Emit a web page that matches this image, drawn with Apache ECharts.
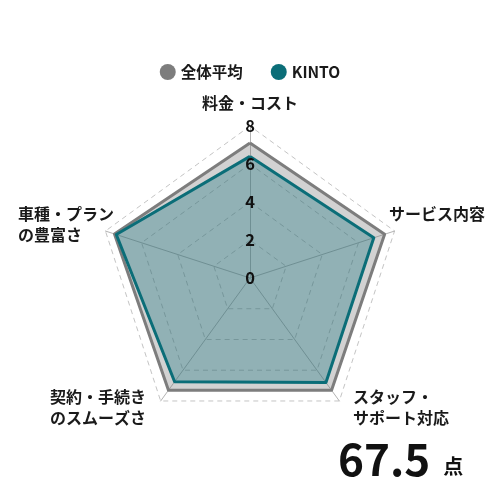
<!DOCTYPE html>
<html>
<head>
<meta charset="utf-8">
<script src="https://cdn.jsdelivr.net/npm/echarts@6/dist/echarts.min.js"></script>
<style>
html,body{margin:0;padding:0;background:#fff;}
#chart{width:500px;height:500px;}
</style>
</head>
<body>
<div id="chart"></div>
<script>
// Data
const categories = ['料金・コスト', '車種・プラン\nの豊富さ', '契約・手続き\nのスムーズさ', 'スタッフ・\nサポート対応', 'サービス内容'];
const seriesNames = ['全体平均', 'KINTO'];
const averageValues = [7.1, 7.5, 7.3, 7.3, 7.45];
const kintoValues = [6.4, 7.4, 6.75, 6.8, 6.85];
const tickLabels = ['0', '2', '4', '6', '8'];
const axisMax = 8;
const scoreText = '67.5';
const scoreUnit = '点';

const FONT = '"Noto Sans CJK JP", "Noto Sans", sans-serif';
const GRAY = '#7d7d7d';
const TEAL = '#0b6e78';

const chart = echarts.init(document.getElementById('chart'), null, {renderer: 'canvas'});

const baseIndicator = categories.map((c) => ({name: c, min: 0, max: axisMax}));
const labelIndicator = categories.map((c, i) => {
  const o = {name: c, min: 0, max: axisMax};
  if (i === 0) o.axisLabel = {show: true};
  return o;
});

// label placements for indicator names
const namePlacement = [
  {x: 250, y: 103, align: 'center'},
  {x: 18, y: 224, align: 'left'},
  {x: 50, y: 407, align: 'left'},
  {x: 353, y: 407, align: 'left'},
  {x: 389, y: 214, align: 'left'}
];

const graphics = categories.map((c, i) => ({
  type: 'text',
  x: namePlacement[i].x,
  y: namePlacement[i].y,
  style: {
    text: c,
    font: 'bold 16px ' + FONT,
    fill: '#1a1a1a',
    align: namePlacement[i].align,
    verticalAlign: 'middle',
    lineHeight: 21
  }
}));

graphics.push({
  type: 'text',
  x: 338,
  y: 481,
  style: {
    text: '{n|' + scoreText + '}{u|' + scoreUnit + '}',
    verticalAlign: 'bottom',
    rich: {
      n: {font: 'bold 44px ' + FONT, fill: '#111', verticalAlign: 'bottom'},
      u: {font: 'bold 20px ' + FONT, fill: '#111', verticalAlign: 'bottom', padding: [0, 0, 5, 13]}
    }
  }
});

const common = {
  center: [250, 278],
  radius: 152,
  startAngle: 90,
  splitNumber: 4,
  shape: 'polygon',
  axisName: {show: false},
  axisTick: {show: false},
  splitArea: {show: false}
};

const option = {
  backgroundColor: '#fff',
  animation: false,
  legend: {
    top: 59,
    left: 'center',
    itemWidth: 16,
    itemHeight: 16,
    itemGap: 28,
    icon: 'circle',
    data: seriesNames,
    textStyle: {fontFamily: FONT, fontWeight: 'bold', fontSize: 15.5, color: '#1a1a1a'}
  },
  radar: [
    Object.assign({}, common, {
      indicator: baseIndicator,
      axisLine: {lineStyle: {color: '#b3b3b3', width: 1}},
      splitLine: {lineStyle: {color: '#c4c4c4', type: [5, 4], width: 1}},
      axisLabel: {show: false}
    }),
    Object.assign({}, common, {
      z: 10,
      indicator: labelIndicator,
      axisLine: {show: false},
      splitLine: {show: false},
      axisLabel: {
        show: false,
        margin: 0,
        align: 'center',
        verticalAlign: 'middle',
        fontFamily: FONT,
        fontWeight: 'bold',
        fontSize: 16.5,
        color: '#111',
        formatter: (v) => tickLabels[Math.round(v / 2)] ?? String(v)
      }
    })
  ],
  series: [{
    type: 'radar',
    radarIndex: 0,
    symbol: 'none',
    data: [
      {
        name: seriesNames[0],
        value: averageValues,
        itemStyle: {color: GRAY},
        lineStyle: {color: GRAY, width: 3},
        areaStyle: {color: GRAY, opacity: 0.35}
      },
      {
        name: seriesNames[1],
        value: kintoValues,
        itemStyle: {color: TEAL},
        lineStyle: {color: TEAL, width: 3},
        areaStyle: {color: TEAL, opacity: 0.33}
      }
    ]
  }],
  graphic: graphics
};

chart.setOption(option);
</script>
</body>
</html>
